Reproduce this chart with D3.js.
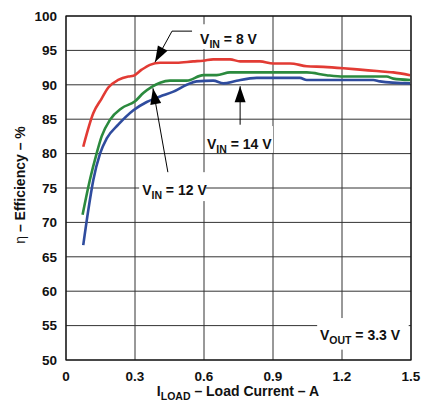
<!DOCTYPE html>
<html><head><meta charset="utf-8">
<script src="https://cdn.jsdelivr.net/npm/d3@7"></script>
<style>body{margin:0;background:#fff}svg{display:block}text{font-family:"Liberation Sans",Arial,sans-serif;font-weight:bold;fill:#111}</style>
</head><body><svg id="c" width="428" height="410"></svg>
<script>
const xTicks = [0, 0.3, 0.6, 0.9, 1.2, 1.5];
const xTickLabels = ["0", "0.3", "0.6", "0.9", "1.2", "1.5"];
const yTicks = [50, 55, 60, 65, 70, 75, 80, 85, 90, 95, 100];

const load8 = [0.075,0.119,0.155,0.184,0.227,0.271,0.293,0.329,0.365,0.409,0.481,0.553,0.597,0.640,0.713,0.757,0.843,0.901,0.974,1.047,1.119,1.206,1.278,1.351,1.387,1.423,1.496];
const eff8  = [81.0,85.9,88.0,89.6,90.7,91.2,91.3,92.2,92.9,93.2,93.2,93.4,93.5,93.7,93.7,93.4,93.4,93.1,93.1,92.7,92.6,92.4,92.2,92.0,91.9,91.8,91.4];

const load12 = [0.072,0.104,0.133,0.155,0.191,0.242,0.300,0.336,0.373,0.409,0.452,0.525,0.597,0.655,0.713,0.843,1.047,1.133,1.206,1.394,1.423,1.496];
const eff12  = [71.1,76.2,80.0,82.5,84.9,86.6,87.6,88.8,89.7,90.3,90.6,90.6,91.4,91.4,91.8,91.8,91.8,91.4,91.2,91.2,90.9,90.7];

const load14 = [0.075,0.097,0.119,0.148,0.177,0.227,0.293,0.351,0.409,0.467,0.525,0.568,0.640,0.684,0.742,0.829,1.017,1.047,1.336,1.365,1.496];
const eff14  = [66.7,71.8,76.2,80.0,82.2,84.2,86.3,87.5,88.3,89.0,90.0,90.5,90.6,90.2,90.6,91.0,91.0,90.7,90.7,90.5,90.2];

const seriesNames = ["8", "12", "14"];
const seriesColors = ["#e23b34", "#2b8a3e", "#2f4c9e"];

const svg = d3.select("#c");
const x = d3.scaleLinear().domain([0, 1.5]).range([66, 411]);
const y = d3.scaleLinear().domain([50, 100]).range([360, 16]);

// grid
const g = svg.append("g");
g.selectAll(".vg").data(xTicks).enter().append("line")
  .attr("x1", d => x(d)).attr("x2", d => x(d)).attr("y1", y(50)).attr("y2", y(100))
  .attr("stroke", "#333").attr("stroke-width", 1);
g.selectAll(".hg").data(yTicks).enter().append("line")
  .attr("x1", x(0)).attr("x2", x(1.5)).attr("y1", d => y(d)).attr("y2", d => y(d))
  .attr("stroke", "#333").attr("stroke-width", 1);

// tick labels
svg.append("g").selectAll("text").data(yTicks).enter().append("text")
  .attr("x", x(0) - 9).attr("y", d => y(d)).attr("dy", "0.36em")
  .attr("text-anchor", "end").attr("font-size", 13.5).text(d => d);
svg.append("g").selectAll("text").data(xTicks).enter().append("text")
  .attr("x", d => x(d)).attr("y", y(50) + 21)
  .attr("text-anchor", "middle").attr("font-size", 13.5).text((d, i) => xTickLabels[i]);

// axis titles
const xt = svg.append("text").attr("x", 238).attr("y", 396).attr("text-anchor", "middle").attr("font-size", 14);
xt.append("tspan").text("I");
xt.append("tspan").attr("font-size", 10.5).attr("dy", 4).text("LOAD");
xt.append("tspan").attr("dy", -4).text(" – Load Current – A");

const yt = svg.append("text").attr("transform", "translate(25,185) rotate(-90)").attr("text-anchor", "middle").attr("font-size", 14);
yt.append("tspan").attr("font-weight", "normal").text("η");
yt.append("tspan").text(" – Efficiency – %");

// curves
const lineGen = d3.line().x(d => x(d[0])).y(d => y(d[1])).curve(d3.curveMonotoneX);
const data = [d3.zip(load8, eff8), d3.zip(load12, eff12), d3.zip(load14, eff14)];
svg.append("g").selectAll("path").data(data).enter().append("path")
  .attr("d", lineGen).attr("fill", "none")
  .attr("stroke", (d, i) => seriesColors[i]).attr("stroke-width", 2.6)
  .attr("stroke-linejoin", "round");

// annotations (data coordinates)
function box(x0, x1, y0, y1) {
  svg.append("rect").attr("x", x(x0)).attr("y", y(y0)).attr("width", x(x1) - x(x0)).attr("height", y(y1) - y(y0)).attr("fill", "#fff");
}
function label(tx, ty, main, sub, rest) {
  const t = svg.append("text").attr("x", x(tx)).attr("y", y(ty)).attr("font-size", 14);
  t.append("tspan").text(main);
  t.append("tspan").attr("font-size", 10.5).attr("dy", 4).text(sub);
  t.append("tspan").attr("dy", -4).text(rest);
}
function arrowHead(fx, fy, tx, ty) {
  const x1 = x(fx), y1 = y(fy), x2 = x(tx), y2 = y(ty);
  const a = Math.atan2(y2 - y1, x2 - x1), L = 16, W = 5.5;
  const bx = x2 - L * Math.cos(a), by = y2 - L * Math.sin(a);
  const px = -Math.sin(a) * W, py = Math.cos(a) * W;
  svg.append("path").attr("d", `M${x2},${y2}L${bx + px},${by + py}L${bx - px},${by - py}Z`).attr("fill", "#000");
}
function seg(pts) {
  svg.append("path").attr("d", d3.line().x(d => x(d[0])).y(d => y(d[1]))(pts)).attr("fill", "none").attr("stroke", "#000").attr("stroke-width", 1);
}

// 8 V
box(0.54, 0.877, 98.8, 95.2);
seg([[0.548, 97.8], [0.461, 97.8], [0.387, 93.3]]);
arrowHead(0.461, 97.8, 0.387, 93.3);
label(0.583, 95.9, "V", "IN", " = 8 V");

// 12 V
box(0.318, 0.609, 77.3, 73.1);
seg([[0.443, 77.3], [0.378, 89.5]]);
arrowHead(0.443, 77.3, 0.378, 89.5);
label(0.331, 74.0, "V", "IN", " = 12 V");

// 14 V
box(0.605, 0.9, 84.0, 80.1);
seg([[0.757, 84.2], [0.757, 89.8]]);
arrowHead(0.757, 84.2, 0.757, 89.8);
label(0.613, 80.7, "V", "IN", " = 14 V");

// Vout
box(1.092, 1.49, 56.1, 51.5);
label(1.104, 52.9, "V", "OUT", " = 3.3 V");

// frame
svg.append("rect").attr("x", x(0)).attr("y", y(100)).attr("width", x(1.5) - x(0)).attr("height", y(50) - y(100))
  .attr("fill", "none").attr("stroke", "#111").attr("stroke-width", 1.2);
</script></body></html>
